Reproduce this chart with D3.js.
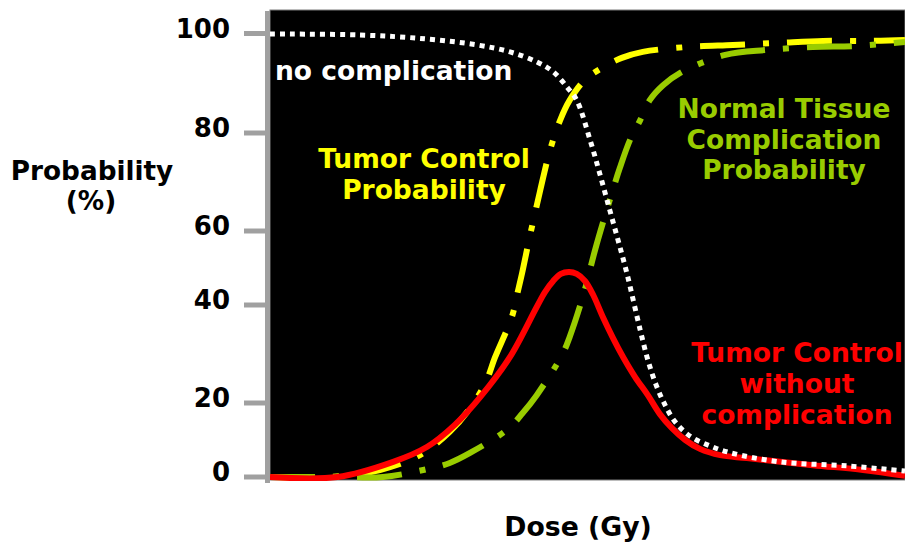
<!DOCTYPE html>
<html>
<head>
<meta charset="utf-8">
<script src="https://cdn.jsdelivr.net/npm/d3@7"></script>
<style>
  html, body { margin: 0; padding: 0; background: #ffffff; }
  svg { display: block; }
  text { font-family: "DejaVu Sans", Verdana, sans-serif; font-weight: bold; }
</style>
</head>
<body>
<svg id="chart" width="905" height="542"></svg>
<script>
// ---------------- DATA ----------------
const yTickValues = [0, 20, 40, 60, 80, 100];
const yTickLabels = ["0", "20", "40", "60", "80", "100"];

// dose (arbitrary units 0-100) and probability (%)
const noComplicationDose = [0, 14.2, 24.7, 32.6, 37.8, 42.0, 44.6, 46.8, 48.3, 50.4, 52.0, 53.5, 54.8, 56.2, 58.3, 59.5, 60.8, 62.2, 63.8, 66.1, 69.3, 72.4, 80.3, 90.9, 100];
const noComplicationProb = [99.9, 99.7, 98.9, 97.7, 96.3, 94.3, 92.3, 89.2, 86.6, 78.6, 71.4, 64.3, 57.6, 48.6, 34.9, 28.8, 23.7, 19.5, 14.9, 11.1, 8.4, 6.6, 4.1, 3.0, 1.6];

const tcpDose = [0, 9.4, 17.3, 23.6, 28.3, 31.5, 34.0, 35.4, 38.1, 38.9, 39.7, 40.8, 42.5, 44.1, 45.7, 47.2, 49.6, 52.3, 55.4, 58.7, 65.8, 72.9, 80.0, 87.1, 94.2, 100];
const tcpProb = [0, 0, 1.9, 5.9, 12.2, 18.6, 24.3, 29.2, 37.6, 42.7, 48.6, 57.6, 68.0, 76.5, 82.6, 86.6, 90.7, 93.1, 95.1, 96.3, 97.3, 97.7, 98.1, 98.5, 98.5, 98.7];

const ntcpDose = [0, 11.0, 17.8, 24.9, 28.3, 31.5, 37.5, 39.8, 42.0, 46.0, 47.2, 49.4, 51.2, 53.5, 55.1, 56.7, 58.3, 59.8, 61.9, 64.6, 71.7, 78.3, 85.5, 92.4, 100];
const ntcpProb = [0, 0, 0, 2.2, 3.8, 6.5, 13.0, 17.3, 21.6, 29.8, 33.5, 43.0, 54.9, 66.3, 72.9, 78.6, 82.6, 86.6, 89.6, 92.1, 95.7, 96.7, 97.3, 97.5, 98.3];

const uncomplicatedDose = [0, 10.6, 19.4, 24.7, 29.1, 33.1, 37.8, 42.0, 43.3, 44.6, 45.8, 47.1, 48.3, 49.6, 50.9, 52.4, 54.0, 55.6, 57.5, 59.5, 61.4, 63.3, 65.4, 67.7, 70.9, 75.1, 85.5, 93.4, 100];
const uncomplicatedProb = [0, 0, 4.1, 8.1, 14.1, 21.2, 29.4, 39.6, 43.5, 46.5, 48.4, 48.9, 48.4, 46.5, 42.7, 37.6, 33.3, 29.4, 25.3, 21.6, 17.0, 13.2, 10.0, 7.6, 5.9, 5.1, 3.2, 1.9, 0.3];

const yAxisTitle = ["Probability", "(%)"];
const xAxisTitle = "Dose (Gy)";
const labelNoComplication = ["no complication"];
const labelTCP = ["Tumor Control", "Probability"];
const labelNTCP = ["Normal Tissue", "Complication", "Probability"];
const labelUTCP = ["Tumor Control", "without", "complication"];

// ---------------- DRAWING ----------------
const svg = d3.select("#chart");

const plotLeft = 270, plotRight = 905, plotTop = 10, plotBottom = 480;

const x = d3.scaleLinear().domain([0, 100]).range([plotLeft, plotRight]);
// the original axis has uneven tick spacing; a piecewise linear scale reproduces it
const y = d3.scaleLinear()
  .domain(yTickValues)
  .range([477, 403, 305, 231, 133, 33.5]);

// black plot background
svg.append("rect")
  .attr("x", plotLeft).attr("y", plotTop)
  .attr("width", plotRight - plotLeft).attr("height", plotBottom - plotTop)
  .attr("fill", "#000000")
  .attr("stroke", "#7a7a7a").attr("stroke-width", 1);

// y axis (gray, thick)
const axisG = svg.append("g");
axisG.append("line")
  .attr("x1", 267.5).attr("x2", 267.5)
  .attr("y1", 11).attr("y2", 483)
  .attr("stroke", "#a0a0a0").attr("stroke-width", 5);

axisG.selectAll("line.tick")
  .data(yTickValues)
  .join("line")
  .attr("class", "tick")
  .attr("x1", 244).attr("x2", 267)
  .attr("y1", d => y(d)).attr("y2", d => y(d))
  .attr("stroke", "#a0a0a0").attr("stroke-width", 5);

axisG.selectAll("text.tickLabel")
  .data(yTickValues)
  .join("text")
  .attr("class", "tickLabel")
  .attr("x", 230)
  .attr("y", d => y(d) + 4)
  .attr("text-anchor", "end")
  .attr("font-size", 26)
  .attr("fill", "#000")
  .text((d, i) => yTickLabels[i]);

// axis titles
svg.append("text")
  .attr("x", 92).attr("y", 180)
  .attr("text-anchor", "middle").attr("font-size", 26.3).attr("fill", "#000")
  .text(yAxisTitle[0]);
svg.append("text")
  .attr("x", 91).attr("y", 210)
  .attr("text-anchor", "middle").attr("font-size", 26.3).attr("fill", "#000")
  .text(yAxisTitle[1]);
svg.append("text")
  .attr("x", 578).attr("y", 536)
  .attr("text-anchor", "middle").attr("font-size", 26.7).attr("fill", "#000")
  .text(xAxisTitle);

// curves
const zip = (xs, ys) => xs.map((d, i) => [d, ys[i]]);
const line = d3.line()
  .x(d => x(d[0]))
  .y(d => y(d[1]))
  .curve(d3.curveCatmullRom.alpha(0.5));

svg.append("clipPath").attr("id", "plotClip")
  .append("rect")
  .attr("x", plotLeft).attr("y", plotTop)
  .attr("width", plotRight - plotLeft).attr("height", plotBottom - plotTop + 1);

const curves = svg.append("g").attr("clip-path", "url(#plotClip)");

curves.append("path")
  .attr("d", line(zip(tcpDose, tcpProb)))
  .attr("fill", "none")
  .attr("stroke", "#ffff00")
  .attr("stroke-width", 6)
  .attr("stroke-dasharray", "45,18,6,18");

curves.append("path")
  .attr("d", line(zip(ntcpDose, ntcpProb)))
  .attr("fill", "none")
  .attr("stroke", "#99cc00")
  .attr("stroke-width", 6)
  .attr("stroke-dasharray", "45,18,6,18");

curves.append("path")
  .attr("d", line(zip(uncomplicatedDose, uncomplicatedProb)))
  .attr("fill", "none")
  .attr("stroke", "#ff0000")
  .attr("stroke-width", 6)
  .attr("stroke-linejoin", "round");

curves.append("path")
  .attr("d", line(zip(noComplicationDose, noComplicationProb)))
  .attr("fill", "none")
  .attr("stroke", "#ffffff")
  .attr("stroke-width", 5)
  .attr("stroke-dasharray", "5,5");

// annotations
function block(lines, cx, y0, dy, color, anchor) {
  svg.append("g").selectAll("text")
    .data(lines)
    .join("text")
    .attr("x", cx)
    .attr("y", (d, i) => y0 + i * dy)
    .attr("text-anchor", anchor)
    .attr("font-size", 26.5)
    .attr("fill", color)
    .text(d => d);
}
block(labelNoComplication, 275, 80, 0, "#ffffff", "start");
block(labelTCP, 424, 168, 31, "#ffff00", "middle");
block(labelNTCP, 784, 118, 30.5, "#99cc00", "middle");
block(labelUTCP, 797, 362, 31, "#ff0000", "middle");
</script>
</body>
</html>
